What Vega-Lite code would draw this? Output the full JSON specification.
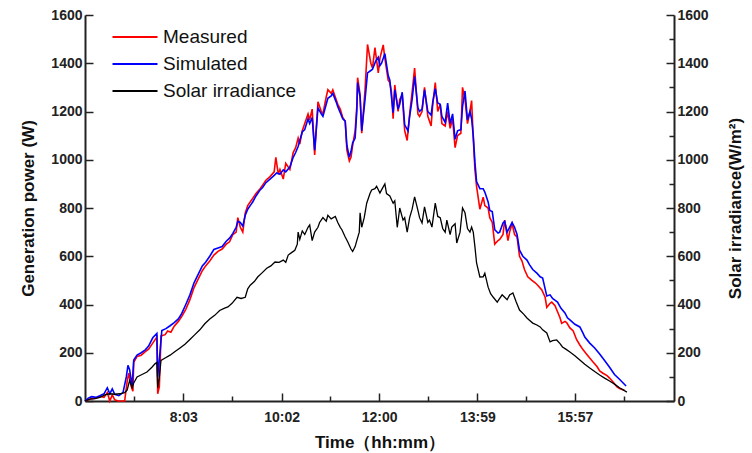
{
"$schema":"https://vega.github.io/schema/vega-lite/v6.json",
"width":589,"height":386,
"autosize":{"type":"none"},
"padding":{"left":85,"top":15,"right":78,"bottom":52},
"background":"white",
"config":{"view":{"stroke":null},
"axis":{"grid":false,"labelFont":"Liberation Sans","labelFontWeight":"bold","labelFontSize":14,"labelColor":"#222","titleFont":"Liberation Sans","titleFontWeight":"bold","titleFontSize":17,"titleColor":"#111","domainColor":"#222","domainWidth":2,"tickColor":"#222","tickWidth":1.5}},
"datasets":{
"measured":[
{"series":"Measured","time":364,"value":0},{"series":"Measured","time":368,"value":5},{"series":"Measured","time":372,"value":10},{"series":"Measured","time":377,"value":12},{"series":"Measured","time":382,"value":20},{"series":"Measured","time":387,"value":15},{"series":"Measured","time":391,"value":35},{"series":"Measured","time":394,"value":0},{"series":"Measured","time":397,"value":25},{"series":"Measured","time":400,"value":5},{"series":"Measured","time":404,"value":0},{"series":"Measured","time":409,"value":0},{"series":"Measured","time":412,"value":0},{"series":"Measured","time":415,"value":80},{"series":"Measured","time":417,"value":115},{"series":"Measured","time":420,"value":60},{"series":"Measured","time":422,"value":40},{"series":"Measured","time":423,"value":160},{"series":"Measured","time":427,"value":185},{"series":"Measured","time":432,"value":190},{"series":"Measured","time":437,"value":205},{"series":"Measured","time":441,"value":215},{"series":"Measured","time":446,"value":240},{"series":"Measured","time":451,"value":265},{"series":"Measured","time":452,"value":30},{"series":"Measured","time":454,"value":60},{"series":"Measured","time":456,"value":270},{"series":"Measured","time":461,"value":275},{"series":"Measured","time":464,"value":290},{"series":"Measured","time":468,"value":285},{"series":"Measured","time":472,"value":310},{"series":"Measured","time":477,"value":330},{"series":"Measured","time":481,"value":350},{"series":"Measured","time":486,"value":380},{"series":"Measured","time":491,"value":420},{"series":"Measured","time":496,"value":470},{"series":"Measured","time":501,"value":505},{"series":"Measured","time":506,"value":540},{"series":"Measured","time":510,"value":560},{"series":"Measured","time":515,"value":580},{"series":"Measured","time":520,"value":605},{"series":"Measured","time":525,"value":620},{"series":"Measured","time":530,"value":630},{"series":"Measured","time":535,"value":650},{"series":"Measured","time":539,"value":660},{"series":"Measured","time":543,"value":690},{"series":"Measured","time":547,"value":700},{"series":"Measured","time":549,"value":760},{"series":"Measured","time":552,"value":720},{"series":"Measured","time":555,"value":700},{"series":"Measured","time":558,"value":780},{"series":"Measured","time":561,"value":810},{"series":"Measured","time":565,"value":830},{"series":"Measured","time":567,"value":840},{"series":"Measured","time":571,"value":860},{"series":"Measured","time":576,"value":880},{"series":"Measured","time":579,"value":895},{"series":"Measured","time":583,"value":915},{"series":"Measured","time":588,"value":930},{"series":"Measured","time":593,"value":950},{"series":"Measured","time":595,"value":1010},{"series":"Measured","time":598,"value":940},{"series":"Measured","time":600,"value":960},{"series":"Measured","time":604,"value":920},{"series":"Measured","time":607,"value":985},{"series":"Measured","time":612,"value":960},{"series":"Measured","time":616,"value":1030},{"series":"Measured","time":619,"value":1050},{"series":"Measured","time":622,"value":1090},{"series":"Measured","time":624,"value":1065},{"series":"Measured","time":627,"value":1120},{"series":"Measured","time":630,"value":1150},{"series":"Measured","time":634,"value":1190},{"series":"Measured","time":636,"value":1165},{"series":"Measured","time":639,"value":1210},{"series":"Measured","time":642,"value":1020},{"series":"Measured","time":646,"value":1240},{"series":"Measured","time":650,"value":1200},{"series":"Measured","time":652,"value":1190},{"series":"Measured","time":656,"value":1260},{"series":"Measured","time":658,"value":1290},{"series":"Measured","time":662,"value":1275},{"series":"Measured","time":664,"value":1290},{"series":"Measured","time":668,"value":1250},{"series":"Measured","time":670,"value":1230},{"series":"Measured","time":673,"value":1210},{"series":"Measured","time":676,"value":1175},{"series":"Measured","time":679,"value":1160},{"series":"Measured","time":681,"value":1040},{"series":"Measured","time":684,"value":995},{"series":"Measured","time":686,"value":1010},{"series":"Measured","time":688,"value":1060},{"series":"Measured","time":691,"value":1120},{"series":"Measured","time":693,"value":1220},{"series":"Measured","time":694,"value":1340},{"series":"Measured","time":697,"value":1270},{"series":"Measured","time":699,"value":1110},{"series":"Measured","time":703,"value":1290},{"series":"Measured","time":706,"value":1478},{"series":"Measured","time":710,"value":1400},{"series":"Measured","time":712,"value":1380},{"series":"Measured","time":715,"value":1465},{"series":"Measured","time":719,"value":1360},{"series":"Measured","time":721,"value":1420},{"series":"Measured","time":725,"value":1476},{"series":"Measured","time":727,"value":1420},{"series":"Measured","time":731,"value":1330},{"series":"Measured","time":733,"value":1320},{"series":"Measured","time":735,"value":1280},{"series":"Measured","time":737,"value":1170},{"series":"Measured","time":739,"value":1310},{"series":"Measured","time":743,"value":1200},{"series":"Measured","time":745,"value":1250},{"series":"Measured","time":748,"value":1270},{"series":"Measured","time":751,"value":1120},{"series":"Measured","time":754,"value":1080},{"series":"Measured","time":757,"value":1190},{"series":"Measured","time":760,"value":1280},{"series":"Measured","time":763,"value":1380},{"series":"Measured","time":767,"value":1190},{"series":"Measured","time":769,"value":1180},{"series":"Measured","time":772,"value":1200},{"series":"Measured","time":775,"value":1300},{"series":"Measured","time":779,"value":1180},{"series":"Measured","time":783,"value":1140},{"series":"Measured","time":785,"value":1230},{"series":"Measured","time":788,"value":1320},{"series":"Measured","time":791,"value":1200},{"series":"Measured","time":794,"value":1230},{"series":"Measured","time":796,"value":1150},{"series":"Measured","time":800,"value":1140},{"series":"Measured","time":803,"value":1200},{"series":"Measured","time":806,"value":1130},{"series":"Measured","time":809,"value":1170},{"series":"Measured","time":812,"value":1050},{"series":"Measured","time":815,"value":1100},{"series":"Measured","time":819,"value":1110},{"series":"Measured","time":821,"value":1300},{"series":"Measured","time":824,"value":1250},{"series":"Measured","time":827,"value":1150},{"series":"Measured","time":830,"value":1200},{"series":"Measured","time":832,"value":1245},{"series":"Measured","time":834,"value":1090},{"series":"Measured","time":836,"value":960},{"series":"Measured","time":838,"value":890},{"series":"Measured","time":842,"value":795},{"series":"Measured","time":846,"value":845},{"series":"Measured","time":848,"value":810},{"series":"Measured","time":852,"value":800},{"series":"Measured","time":854,"value":760},{"series":"Measured","time":857,"value":740},{"series":"Measured","time":860,"value":650},{"series":"Measured","time":864,"value":665},{"series":"Measured","time":866,"value":670},{"series":"Measured","time":870,"value":690},{"series":"Measured","time":872,"value":750},{"series":"Measured","time":876,"value":665},{"series":"Measured","time":878,"value":700},{"series":"Measured","time":881,"value":735},{"series":"Measured","time":884,"value":690},{"series":"Measured","time":887,"value":680},{"series":"Measured","time":890,"value":600},{"series":"Measured","time":893,"value":580},{"series":"Measured","time":896,"value":545},{"series":"Measured","time":900,"value":515},{"series":"Measured","time":905,"value":500},{"series":"Measured","time":909,"value":490},{"series":"Measured","time":912,"value":480},{"series":"Measured","time":917,"value":460},{"series":"Measured","time":921,"value":430},{"series":"Measured","time":923,"value":388},{"series":"Measured","time":927,"value":405},{"series":"Measured","time":929,"value":410},{"series":"Measured","time":933,"value":395},{"series":"Measured","time":935,"value":378},{"series":"Measured","time":939,"value":345},{"series":"Measured","time":941,"value":322},{"series":"Measured","time":945,"value":330},{"series":"Measured","time":947,"value":325},{"series":"Measured","time":951,"value":303},{"series":"Measured","time":955,"value":290},{"series":"Measured","time":959,"value":255},{"series":"Measured","time":963,"value":232},{"series":"Measured","time":967,"value":212},{"series":"Measured","time":971,"value":195},{"series":"Measured","time":975,"value":178},{"series":"Measured","time":979,"value":162},{"series":"Measured","time":984,"value":142},{"series":"Measured","time":987,"value":125},{"series":"Measured","time":991,"value":115},{"series":"Measured","time":996,"value":105},{"series":"Measured","time":999,"value":95},{"series":"Measured","time":1003,"value":80},{"series":"Measured","time":1008,"value":58},{"series":"Measured","time":1011,"value":52},{"series":"Measured","time":1017,"value":45}
],
"simulated":[
{"series":"Simulated","time":364,"value":0},{"series":"Simulated","time":368,"value":12},{"series":"Simulated","time":372,"value":18},{"series":"Simulated","time":377,"value":15},{"series":"Simulated","time":382,"value":22},{"series":"Simulated","time":387,"value":30},{"series":"Simulated","time":391,"value":55},{"series":"Simulated","time":394,"value":30},{"series":"Simulated","time":397,"value":50},{"series":"Simulated","time":400,"value":28},{"series":"Simulated","time":405,"value":22},{"series":"Simulated","time":410,"value":35},{"series":"Simulated","time":414,"value":100},{"series":"Simulated","time":416,"value":148},{"series":"Simulated","time":418,"value":130},{"series":"Simulated","time":421,"value":62},{"series":"Simulated","time":423,"value":170},{"series":"Simulated","time":427,"value":190},{"series":"Simulated","time":432,"value":200},{"series":"Simulated","time":437,"value":212},{"series":"Simulated","time":441,"value":228},{"series":"Simulated","time":446,"value":262},{"series":"Simulated","time":451,"value":280},{"series":"Simulated","time":452,"value":100},{"series":"Simulated","time":455,"value":210},{"series":"Simulated","time":457,"value":292},{"series":"Simulated","time":462,"value":300},{"series":"Simulated","time":467,"value":312},{"series":"Simulated","time":472,"value":325},{"series":"Simulated","time":477,"value":340},{"series":"Simulated","time":481,"value":362},{"series":"Simulated","time":486,"value":400},{"series":"Simulated","time":491,"value":440},{"series":"Simulated","time":496,"value":490},{"series":"Simulated","time":501,"value":525},{"series":"Simulated","time":506,"value":560},{"series":"Simulated","time":510,"value":575},{"series":"Simulated","time":515,"value":600},{"series":"Simulated","time":520,"value":628},{"series":"Simulated","time":525,"value":634},{"series":"Simulated","time":530,"value":640},{"series":"Simulated","time":535,"value":662},{"series":"Simulated","time":539,"value":675},{"series":"Simulated","time":543,"value":695},{"series":"Simulated","time":547,"value":720},{"series":"Simulated","time":549,"value":745},{"series":"Simulated","time":552,"value":740},{"series":"Simulated","time":555,"value":725},{"series":"Simulated","time":558,"value":770},{"series":"Simulated","time":561,"value":795},{"series":"Simulated","time":565,"value":815},{"series":"Simulated","time":567,"value":825},{"series":"Simulated","time":571,"value":850},{"series":"Simulated","time":576,"value":875},{"series":"Simulated","time":579,"value":885},{"series":"Simulated","time":583,"value":905},{"series":"Simulated","time":588,"value":920},{"series":"Simulated","time":593,"value":935},{"series":"Simulated","time":596,"value":945},{"series":"Simulated","time":600,"value":940},{"series":"Simulated","time":604,"value":958},{"series":"Simulated","time":607,"value":950},{"series":"Simulated","time":612,"value":970},{"series":"Simulated","time":616,"value":1010},{"series":"Simulated","time":619,"value":1030},{"series":"Simulated","time":622,"value":1055},{"series":"Simulated","time":624,"value":1080},{"series":"Simulated","time":627,"value":1115},{"series":"Simulated","time":630,"value":1125},{"series":"Simulated","time":634,"value":1170},{"series":"Simulated","time":636,"value":1150},{"series":"Simulated","time":639,"value":1175},{"series":"Simulated","time":642,"value":1040},{"series":"Simulated","time":646,"value":1215},{"series":"Simulated","time":650,"value":1190},{"series":"Simulated","time":652,"value":1180},{"series":"Simulated","time":656,"value":1230},{"series":"Simulated","time":658,"value":1255},{"series":"Simulated","time":662,"value":1265},{"series":"Simulated","time":664,"value":1275},{"series":"Simulated","time":668,"value":1240},{"series":"Simulated","time":670,"value":1220},{"series":"Simulated","time":673,"value":1195},{"series":"Simulated","time":676,"value":1170},{"series":"Simulated","time":679,"value":1160},{"series":"Simulated","time":681,"value":1060},{"series":"Simulated","time":684,"value":1010},{"series":"Simulated","time":686,"value":1035},{"series":"Simulated","time":688,"value":1070},{"series":"Simulated","time":691,"value":1090},{"series":"Simulated","time":693,"value":1200},{"series":"Simulated","time":694,"value":1320},{"series":"Simulated","time":697,"value":1260},{"series":"Simulated","time":699,"value":1120},{"series":"Simulated","time":703,"value":1250},{"series":"Simulated","time":706,"value":1360},{"series":"Simulated","time":710,"value":1370},{"series":"Simulated","time":712,"value":1375},{"series":"Simulated","time":716,"value":1410},{"series":"Simulated","time":719,"value":1425},{"series":"Simulated","time":721,"value":1390},{"series":"Simulated","time":723,"value":1400},{"series":"Simulated","time":727,"value":1440},{"series":"Simulated","time":731,"value":1350},{"series":"Simulated","time":733,"value":1330},{"series":"Simulated","time":735,"value":1260},{"series":"Simulated","time":737,"value":1195},{"series":"Simulated","time":739,"value":1290},{"series":"Simulated","time":743,"value":1210},{"series":"Simulated","time":745,"value":1230},{"series":"Simulated","time":748,"value":1280},{"series":"Simulated","time":751,"value":1145},{"series":"Simulated","time":755,"value":1120},{"series":"Simulated","time":757,"value":1180},{"series":"Simulated","time":760,"value":1250},{"series":"Simulated","time":763,"value":1345},{"series":"Simulated","time":767,"value":1215},{"series":"Simulated","time":769,"value":1200},{"series":"Simulated","time":772,"value":1210},{"series":"Simulated","time":775,"value":1290},{"series":"Simulated","time":779,"value":1200},{"series":"Simulated","time":783,"value":1185},{"series":"Simulated","time":785,"value":1240},{"series":"Simulated","time":788,"value":1295},{"series":"Simulated","time":791,"value":1235},{"series":"Simulated","time":794,"value":1230},{"series":"Simulated","time":796,"value":1180},{"series":"Simulated","time":800,"value":1155},{"series":"Simulated","time":803,"value":1235},{"series":"Simulated","time":806,"value":1150},{"series":"Simulated","time":809,"value":1190},{"series":"Simulated","time":812,"value":1085},{"series":"Simulated","time":815,"value":1120},{"series":"Simulated","time":819,"value":1125},{"series":"Simulated","time":821,"value":1220},{"series":"Simulated","time":824,"value":1285},{"series":"Simulated","time":827,"value":1165},{"series":"Simulated","time":830,"value":1200},{"series":"Simulated","time":832,"value":1170},{"series":"Simulated","time":834,"value":1100},{"series":"Simulated","time":836,"value":990},{"series":"Simulated","time":838,"value":910},{"series":"Simulated","time":842,"value":880},{"series":"Simulated","time":846,"value":880},{"series":"Simulated","time":848,"value":866},{"series":"Simulated","time":852,"value":825},{"series":"Simulated","time":854,"value":790},{"series":"Simulated","time":857,"value":785},{"series":"Simulated","time":860,"value":710},{"series":"Simulated","time":864,"value":696},{"series":"Simulated","time":866,"value":700},{"series":"Simulated","time":870,"value":738},{"series":"Simulated","time":872,"value":745},{"series":"Simulated","time":875,"value":700},{"series":"Simulated","time":878,"value":720},{"series":"Simulated","time":881,"value":740},{"series":"Simulated","time":884,"value":720},{"series":"Simulated","time":887,"value":690},{"series":"Simulated","time":890,"value":625},{"series":"Simulated","time":894,"value":600},{"series":"Simulated","time":899,"value":584},{"series":"Simulated","time":902,"value":565},{"series":"Simulated","time":906,"value":545},{"series":"Simulated","time":911,"value":530},{"series":"Simulated","time":915,"value":515},{"series":"Simulated","time":918,"value":510},{"series":"Simulated","time":923,"value":435},{"series":"Simulated","time":927,"value":440},{"series":"Simulated","time":930,"value":425},{"series":"Simulated","time":934,"value":415},{"series":"Simulated","time":936,"value":410},{"series":"Simulated","time":940,"value":385},{"series":"Simulated","time":945,"value":365},{"series":"Simulated","time":948,"value":345},{"series":"Simulated","time":951,"value":336},{"series":"Simulated","time":957,"value":318},{"series":"Simulated","time":963,"value":307},{"series":"Simulated","time":967,"value":280},{"series":"Simulated","time":969,"value":265},{"series":"Simulated","time":975,"value":240},{"series":"Simulated","time":981,"value":220},{"series":"Simulated","time":987,"value":195},{"series":"Simulated","time":993,"value":168},{"series":"Simulated","time":999,"value":140},{"series":"Simulated","time":1005,"value":110},{"series":"Simulated","time":1011,"value":90},{"series":"Simulated","time":1019,"value":62}
],
"irradiance":[
{"series":"Solar irradiance","time":364,"value":0},{"series":"Solar irradiance","time":370,"value":8},{"series":"Solar irradiance","time":376,"value":10},{"series":"Solar irradiance","time":382,"value":15},{"series":"Solar irradiance","time":388,"value":25},{"series":"Solar irradiance","time":394,"value":30},{"series":"Solar irradiance","time":400,"value":28},{"series":"Solar irradiance","time":406,"value":30},{"series":"Solar irradiance","time":412,"value":35},{"series":"Solar irradiance","time":415,"value":45},{"series":"Solar irradiance","time":418,"value":85},{"series":"Solar irradiance","time":421,"value":55},{"series":"Solar irradiance","time":423,"value":75},{"series":"Solar irradiance","time":427,"value":100},{"series":"Solar irradiance","time":433,"value":110},{"series":"Solar irradiance","time":439,"value":120},{"series":"Solar irradiance","time":445,"value":140},{"series":"Solar irradiance","time":449,"value":155},{"series":"Solar irradiance","time":451,"value":160},{"series":"Solar irradiance","time":452,"value":55},{"series":"Solar irradiance","time":454,"value":100},{"series":"Solar irradiance","time":456,"value":168},{"series":"Solar irradiance","time":461,"value":178},{"series":"Solar irradiance","time":467,"value":190},{"series":"Solar irradiance","time":473,"value":205},{"series":"Solar irradiance","time":479,"value":220},{"series":"Solar irradiance","time":485,"value":235},{"series":"Solar irradiance","time":491,"value":255},{"series":"Solar irradiance","time":497,"value":275},{"series":"Solar irradiance","time":503,"value":295},{"series":"Solar irradiance","time":509,"value":320},{"series":"Solar irradiance","time":515,"value":340},{"series":"Solar irradiance","time":521,"value":355},{"series":"Solar irradiance","time":527,"value":375},{"series":"Solar irradiance","time":533,"value":385},{"series":"Solar irradiance","time":537,"value":390},{"series":"Solar irradiance","time":542,"value":405},{"series":"Solar irradiance","time":548,"value":430},{"series":"Solar irradiance","time":553,"value":425},{"series":"Solar irradiance","time":558,"value":430},{"series":"Solar irradiance","time":561,"value":465},{"series":"Solar irradiance","time":564,"value":480},{"series":"Solar irradiance","time":569,"value":495},{"series":"Solar irradiance","time":573,"value":514},{"series":"Solar irradiance","time":578,"value":530},{"series":"Solar irradiance","time":584,"value":550},{"series":"Solar irradiance","time":589,"value":560},{"series":"Solar irradiance","time":594,"value":576},{"series":"Solar irradiance","time":599,"value":575},{"series":"Solar irradiance","time":604,"value":584},{"series":"Solar irradiance","time":607,"value":575},{"series":"Solar irradiance","time":610,"value":605},{"series":"Solar irradiance","time":614,"value":615},{"series":"Solar irradiance","time":618,"value":625},{"series":"Solar irradiance","time":621,"value":650},{"series":"Solar irradiance","time":622,"value":700},{"series":"Solar irradiance","time":624,"value":670},{"series":"Solar irradiance","time":627,"value":705},{"series":"Solar irradiance","time":630,"value":690},{"series":"Solar irradiance","time":634,"value":720},{"series":"Solar irradiance","time":636,"value":730},{"series":"Solar irradiance","time":639,"value":665},{"series":"Solar irradiance","time":642,"value":700},{"series":"Solar irradiance","time":646,"value":720},{"series":"Solar irradiance","time":648,"value":740},{"series":"Solar irradiance","time":652,"value":760},{"series":"Solar irradiance","time":656,"value":745},{"series":"Solar irradiance","time":658,"value":770},{"series":"Solar irradiance","time":662,"value":755},{"series":"Solar irradiance","time":667,"value":765},{"series":"Solar irradiance","time":670,"value":740},{"series":"Solar irradiance","time":673,"value":720},{"series":"Solar irradiance","time":675,"value":710},{"series":"Solar irradiance","time":679,"value":680},{"series":"Solar irradiance","time":682,"value":660},{"series":"Solar irradiance","time":686,"value":630},{"series":"Solar irradiance","time":688,"value":620},{"series":"Solar irradiance","time":691,"value":640},{"series":"Solar irradiance","time":693,"value":665},{"series":"Solar irradiance","time":696,"value":700},{"series":"Solar irradiance","time":697,"value":780},{"series":"Solar irradiance","time":699,"value":720},{"series":"Solar irradiance","time":702,"value":760},{"series":"Solar irradiance","time":705,"value":820},{"series":"Solar irradiance","time":709,"value":860},{"series":"Solar irradiance","time":711,"value":875},{"series":"Solar irradiance","time":715,"value":880},{"series":"Solar irradiance","time":717,"value":890},{"series":"Solar irradiance","time":721,"value":862},{"series":"Solar irradiance","time":723,"value":875},{"series":"Solar irradiance","time":727,"value":900},{"series":"Solar irradiance","time":729,"value":860},{"series":"Solar irradiance","time":733,"value":850},{"series":"Solar irradiance","time":737,"value":820},{"series":"Solar irradiance","time":739,"value":830},{"series":"Solar irradiance","time":742,"value":720},{"series":"Solar irradiance","time":745,"value":800},{"series":"Solar irradiance","time":749,"value":750},{"series":"Solar irradiance","time":751,"value":760},{"series":"Solar irradiance","time":754,"value":700},{"series":"Solar irradiance","time":757,"value":760},{"series":"Solar irradiance","time":760,"value":795},{"series":"Solar irradiance","time":763,"value":846},{"series":"Solar irradiance","time":767,"value":790},{"series":"Solar irradiance","time":769,"value":760},{"series":"Solar irradiance","time":772,"value":738},{"series":"Solar irradiance","time":775,"value":805},{"series":"Solar irradiance","time":779,"value":740},{"series":"Solar irradiance","time":781,"value":750},{"series":"Solar irradiance","time":784,"value":721},{"series":"Solar irradiance","time":788,"value":820},{"series":"Solar irradiance","time":791,"value":765},{"series":"Solar irradiance","time":794,"value":760},{"series":"Solar irradiance","time":797,"value":715},{"series":"Solar irradiance","time":800,"value":700},{"series":"Solar irradiance","time":802,"value":750},{"series":"Solar irradiance","time":806,"value":690},{"series":"Solar irradiance","time":808,"value":721},{"series":"Solar irradiance","time":812,"value":735},{"series":"Solar irradiance","time":814,"value":655},{"series":"Solar irradiance","time":818,"value":700},{"series":"Solar irradiance","time":821,"value":800},{"series":"Solar irradiance","time":824,"value":780},{"series":"Solar irradiance","time":827,"value":715},{"series":"Solar irradiance","time":830,"value":700},{"series":"Solar irradiance","time":832,"value":721},{"series":"Solar irradiance","time":834,"value":700},{"series":"Solar irradiance","time":836,"value":640},{"series":"Solar irradiance","time":838,"value":572},{"series":"Solar irradiance","time":842,"value":514},{"series":"Solar irradiance","time":846,"value":515},{"series":"Solar irradiance","time":848,"value":530},{"series":"Solar irradiance","time":852,"value":472},{"series":"Solar irradiance","time":855,"value":445},{"series":"Solar irradiance","time":858,"value":431},{"series":"Solar irradiance","time":863,"value":410},{"series":"Solar irradiance","time":866,"value":425},{"series":"Solar irradiance","time":869,"value":440},{"series":"Solar irradiance","time":872,"value":430},{"series":"Solar irradiance","time":875,"value":420},{"series":"Solar irradiance","time":878,"value":440},{"series":"Solar irradiance","time":882,"value":448},{"series":"Solar irradiance","time":886,"value":410},{"series":"Solar irradiance","time":890,"value":377},{"series":"Solar irradiance","time":895,"value":360},{"series":"Solar irradiance","time":899,"value":344},{"series":"Solar irradiance","time":902,"value":335},{"series":"Solar irradiance","time":906,"value":323},{"series":"Solar irradiance","time":911,"value":315},{"series":"Solar irradiance","time":915,"value":307},{"series":"Solar irradiance","time":918,"value":295},{"series":"Solar irradiance","time":923,"value":282},{"series":"Solar irradiance","time":927,"value":245},{"series":"Solar irradiance","time":930,"value":250},{"series":"Solar irradiance","time":935,"value":253},{"series":"Solar irradiance","time":939,"value":238},{"series":"Solar irradiance","time":942,"value":224},{"series":"Solar irradiance","time":946,"value":215},{"series":"Solar irradiance","time":951,"value":203},{"series":"Solar irradiance","time":957,"value":188},{"series":"Solar irradiance","time":963,"value":170},{"series":"Solar irradiance","time":969,"value":152},{"series":"Solar irradiance","time":975,"value":137},{"series":"Solar irradiance","time":981,"value":122},{"series":"Solar irradiance","time":987,"value":108},{"series":"Solar irradiance","time":993,"value":95},{"series":"Solar irradiance","time":999,"value":83},{"series":"Solar irradiance","time":1005,"value":70},{"series":"Solar irradiance","time":1011,"value":55},{"series":"Solar irradiance","time":1020,"value":37}
]},
"layer":[
{"layer":[
{"data":{"name":"measured"},"mark":{"type":"line","strokeWidth":1.6},
"encoding":{
"x":{"field":"time","type":"quantitative","scale":{"domain":[364,1077],"nice":false,"zero":false},
"axis":{"values":[423,483,542,602,661,720,779,839,898,957,1017],"labelExpr":"indexof([483,602,720,839,957], datum.value) >= 0 ? floor(datum.value/60) + ':' + (datum.value % 60 < 10 ? '0' : '') + (datum.value % 60) : ''","tickSize":{"condition":{"test":"indexof([483,602,720,839,957], datum.value) >= 0","value":-8},"value":-5},"labelPadding":17,"labelFlush":false,"title":"Time（hh:mm）","titlePadding":10}},
"y":{"field":"value","type":"quantitative","scale":{"domain":[0,1600],"nice":false},
"axis":{"values":[0,100,200,300,400,500,600,700,800,900,1000,1100,1200,1300,1400,1500,1600],"labelExpr":"datum.value % 200 == 0 ? '' + datum.value : ''","tickSize":{"condition":{"test":"datum.value % 200 == 0","value":-8},"value":-5},"labelPadding":11,"title":"Generation power (W)","titlePadding":13}},
"color":{"field":"series","type":"nominal","scale":{"domain":["Measured","Simulated","Solar irradiance"],"range":["#ff0000","#0000ff","#000000"]},
"legend":{"orient":"none","legendX":40,"legendY":12,"title":null,"symbolType":"M-2.5,0H2.5","symbolSize":324,"symbolStrokeWidth":2,"labelFont":"Liberation Sans","labelFontSize":19,"labelColor":"#111","labelOffset":18,"rowPadding":7,"padding":0}}}},
{"data":{"name":"simulated"},"mark":{"type":"line","strokeWidth":1.6},
"encoding":{"x":{"field":"time","type":"quantitative"},"y":{"field":"value","type":"quantitative"},"color":{"field":"series","type":"nominal"}}}
]},
{"data":{"name":"irradiance"},"mark":{"type":"line","strokeWidth":1.3},
"encoding":{"x":{"field":"time","type":"quantitative"},
"y":{"field":"value","type":"quantitative","scale":{"domain":[0,1600],"nice":false},
"axis":{"orient":"right","values":[0,100,200,300,400,500,600,700,800,900,1000,1100,1200,1300,1400,1500,1600],"labelExpr":"datum.value % 200 == 0 ? '' + datum.value : ''","tickSize":{"condition":{"test":"datum.value % 200 == 0","value":-8},"value":-5},"labelPadding":11,"title":"Solar irradiance(W/m²)","titleAngle":270,"titlePadding":36}},
"color":{"field":"series","type":"nominal"}}}
],
"resolve":{"scale":{"y":"independent"}}
}
